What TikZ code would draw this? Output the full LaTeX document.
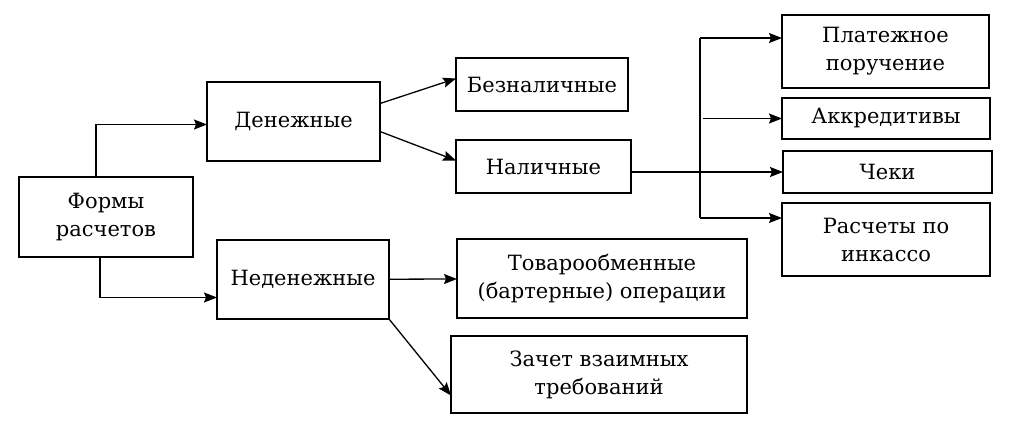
\documentclass[tikz,border=0pt]{standalone}
\usepackage{fontspec}
\setmainfont{DejaVu Serif}
\usepackage{tikz}
\usetikzlibrary{arrows.meta, positioning}
\tikzstyle{block} = [rectangle, draw, line width=1.5pt, outer sep=0pt, align=center, font=\fontsize{21}{28}\selectfont]
\tikzstyle{arrow} = [-{Stealth[length=13pt, width=10pt, inset=2pt]}, line width=1.3pt]

\begin{document}
\begin{tikzpicture}[x=1pt, y=-1pt]
    \useasboundingbox (0,0) rectangle (1028,434);
    \node (forms) [block, minimum width=174pt, minimum height=80pt] at (106,217) {Формы\\расчетов};
    \node (money) [block, minimum width=173pt, minimum height=79pt] at (293.5,121.5) {Денежные};
    \node (nonmoney) [block, minimum width=172pt, minimum height=79pt] at (303,279.5) {Неденежные};
    \node (cashless) [block, minimum width=172pt, minimum height=53pt] at (542,84.5) {Безналичные};
    \node (cash) [block, minimum width=175pt, minimum height=53pt] at (543.5,166.5) {Наличные};
    \node (barter) [block, minimum width=290pt, minimum height=79pt] at (602,278.5) {Товарообменные\\(бартерные) операции};
    \node (offset) [block, minimum width=296pt, minimum height=77pt] at (599,374.5) {Зачет взаимных\\требований};
    \node (order) [block, minimum width=207pt, minimum height=73pt] at (885.5,51.5) {Платежное\\поручение};
    \node (letters) [block, minimum width=208pt, minimum height=41pt, below=10pt of order.south west, anchor=north west] {Аккредитивы};
    \node (cheques) [block, minimum width=209pt, minimum height=42pt, below=12pt of letters.south west, anchor=north west, xshift=1pt] {Чеки};
    \node (collect) [block, minimum width=208pt, minimum height=73pt, below=10pt of cheques.south west, anchor=north west, xshift=-1pt] {Расчеты по\\инкассо};
    \coordinate (bustop) at (700,38);
    \coordinate (busend) at (700,218);

    \draw [arrow] ([xshift=-10pt]forms.north) |- ([yshift=-3pt]money.west);
    \draw [arrow] ([xshift=-6pt]forms.south) |- ([yshift=-18pt]nonmoney.west);

    \draw [arrow] ([yshift=18pt]money.east) -- ([yshift=6pt]cashless.west);
    \draw [arrow] ([yshift=-10pt]money.east) -- ([yshift=6pt]cash.west);

    \draw [line width=1.3pt] (bustop) -- (busend);
    \draw [arrow] (bustop) -- (bustop -| order.west);
    \draw [arrow] ([xshift=3pt]letters.west -| bustop) -- (letters.west);
    \draw [arrow] (cash.east |- cheques.west) -- (cheques.west);
    \draw [arrow] (busend) -- (busend -| collect.west);

    \draw [arrow] (nonmoney) -- (barter);
    \draw [arrow] (nonmoney.south east) -- ([yshift=-21pt]offset.west);
\end{tikzpicture}
\end{document}
